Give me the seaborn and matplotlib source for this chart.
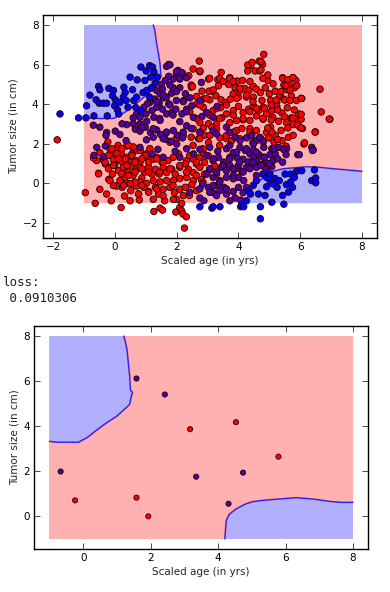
import numpy as np
import pandas as pd
import matplotlib
matplotlib.use("Agg")
import matplotlib.pyplot as plt
import seaborn as sns

# ---------------- data ----------------
# Top chart points
top_blue = [(-1.78,3.51),(-1.18,3.31),(-0.94,3.31),(-0.92,3.92),(-0.81,4.46),(-0.68,3.41),(-0.61,4.22),
    (-0.53,4.90),(-0.49,4.73),(-0.51,4.05),(-0.38,4.05),(-0.27,4.05),(-0.25,3.41),(-0.20,4.80),(-0.05,4.70),
    (-0.08,4.43),(0.01,4.22),(-0.01,3.92),(0.08,3.72),(0.16,4.09),(0.29,4.86),(0.33,4.59),(0.27,4.36),
    (0.36,4.19),(0.42,3.85),(0.49,5.37),(0.57,4.73),(0.61,4.19),(0.70,4.36),(0.72,5.23),(0.68,3.82),
    (0.84,5.88),(0.91,4.59),(0.97,5.20),(1.03,4.70),(1.12,5.95),(1.16,5.37),(1.22,5.88),(1.26,5.64),
    (1.37,5.37),(1.30,5.07),(1.12,4.36),(0.84,3.68),(0.12,3.51),(1.01,5.68),(1.18,4.83),
    (2.75,-1.18),(3.14,-1.25),(3.18,-1.18),(3.40,-1.18),(4.07,-1.18),(4.11,-1.08),(4.17,-1.18),(4.26,-0.88),
    (4.32,-0.37),(4.39,-0.54),(4.48,-0.10),(4.58,0.14),(4.65,-0.54),(4.71,-1.18),(4.71,-1.79),(4.79,0.47),
    (4.86,-0.61),(4.91,-0.17),(5.02,0.14),(5.08,-0.95),(5.12,-0.03),(5.19,0.24),(5.25,-0.20),(5.32,0.14),
    (5.43,-0.61),(5.47,-1.05),(5.51,0.47),(5.55,-0.07),(5.62,-0.44),(5.69,0.47),(5.75,-0.20),(5.81,0.30),
    (5.88,0.61),(6.05,0.64),(6.37,0.14),(6.46,0.68),(6.50,0.27),(6.50,0.03),(5.69,0.07),(4.91,0.30),(5.02,0.47)]

top_red = [(-1.87,2.20),(-0.96,-0.47),(-0.64,-1.01),(-0.12,-0.88),(0.20,-1.22),(1.26,-1.42),(1.46,-1.25),
    (1.54,-1.35),(1.97,-1.45),(1.99,-0.81),(2.10,-1.22),(2.16,-1.39),(2.20,-1.55),(2.31,-1.69),(2.25,-2.26),
    (2.16,-1.01),(1.89,-0.81),(1.61,-0.88),(1.24,-0.81),(0.79,-0.84),(0.49,-0.88),(0.31,-0.64),(6.68,3.61),
    (6.96,3.24),(6.64,4.76),(6.49,2.60),(6.12,1.99),(6.05,4.29),(5.94,3.51),(5.77,5.34),(5.64,5.00),(5.43,5.34),
    (4.82,6.52),(4.67,6.18),(4.39,5.95),(4.30,5.68),(4.54,5.68),(4.69,5.68),(4.78,6.01),(2.73,6.18),(2.53,5.78),
    (2.75,5.64),(3.03,5.27),(3.33,5.24),(3.44,5.61),(3.72,5.34),(3.96,5.17),(4.13,5.20),(2.47,4.97),(3.14,4.66),
    (2.19,5.57),(2.39,5.44),(4.30,5.98),(4.44,6.11),(4.89,5.34),(4.95,5.20),(5.12,5.03),(5.47,4.97),(5.81,4.83),
    (5.86,5.20),(5.62,4.73),
    (2.47,4.86),(2.64,4.39),(2.86,4.26),(3.07,4.22),(3.27,4.43),(3.44,4.22),(3.57,4.09),(3.74,4.26),(3.89,4.83),
    (4.05,4.70),(4.20,4.80),(4.34,4.70),(4.48,4.90),(4.58,4.76),(4.71,4.59),(4.87,4.83),(5.00,4.53),(5.19,4.66),
    (5.34,4.46),(5.47,4.26),(5.56,4.73),(5.71,4.42),(5.88,4.19),(4.00,4.36),(4.26,4.36),(4.48,4.36),(4.76,4.19),
    (5.04,4.19),(5.24,4.09),(3.83,4.53),(3.68,5.00),(3.35,4.93),(3.05,4.66),(2.82,4.66),
    (2.66,4.02),(2.86,3.85),(3.18,3.68),(3.42,3.82),(3.61,3.51),(3.83,3.68),(4.00,3.89),(4.15,3.58),(4.33,3.75),
    (4.48,3.92),(4.65,3.68),(4.80,3.85),(4.91,3.51),(5.08,3.68),(5.24,3.89),(5.41,3.55),(5.58,3.82),(5.71,3.31),
    (5.88,3.24),(6.03,3.24),(5.99,2.84),(6.07,2.77),(5.78,2.97),(5.56,3.07),(5.30,3.14),(5.11,3.34),(4.80,3.24),
    (4.58,3.41),(4.37,3.18),(4.15,3.21),(3.94,3.18),(3.72,3.07),(3.46,3.31),(3.29,3.01),(3.03,3.01),(2.75,3.07),
    (-0.23,2.09),(0.10,1.92),(0.38,1.89),(2.47,2.33),(2.71,2.26),(2.90,2.43),(3.03,2.06),(2.86,2.80),(3.14,2.84),
    (3.40,2.30),(3.61,2.26),(3.78,2.16),(3.94,2.67),(4.11,2.77),(4.37,2.77),(4.58,2.67),(4.91,2.57),(5.04,2.84),
    (5.19,2.43),(5.38,2.67),(5.62,2.33),(5.77,2.43),(5.41,2.16),(5.15,2.09),(4.98,2.30),
    (-0.16,1.72),(0.01,1.49),(0.20,1.55),(0.38,1.32),(0.57,1.82),(0.70,1.66),(0.55,1.49),(0.94,1.32),(1.09,1.32),
    (1.24,1.22),(1.35,1.32),(1.52,1.08),(1.72,1.15),(1.89,1.32),(2.06,1.49),(2.32,1.15),(2.54,1.22),(2.75,1.32),
    (2.86,1.55),(3.02,1.39),(2.64,0.98),(2.90,1.05),(1.02,1.49),(1.13,1.76),(-0.49,1.55),(-0.36,1.15),(-0.59,1.15),
    (-0.05,1.18),(0.12,1.18),(0.25,1.05),(0.51,1.05),(0.68,1.15),(0.81,1.05),(0.10,1.76),
    (-0.53,0.51),(-0.20,0.20),(-0.08,0.47),(0.12,0.64),(0.27,0.81),(0.42,0.57),(0.33,0.30),(0.53,0.88),(0.68,0.68),
    (0.59,0.41),(0.81,0.81),(0.96,0.57),(0.87,0.27),(1.09,0.81),(1.20,0.47),(1.31,0.71),(1.43,0.47),(1.56,0.81),
    (1.67,0.54),(1.84,0.71),(1.95,0.47),(2.10,0.81),(2.28,0.98),(2.38,0.71),(2.54,0.54),(2.75,0.81),(2.90,0.47),
    (3.07,0.68),(3.23,0.88),(3.29,0.47),(2.80,0.20),(2.54,0.14),(2.32,0.30),(2.10,0.24),(1.89,0.14),(1.67,0.14),
    (1.46,0.07),(1.24,0.14),(1.02,0.00),(0.81,0.07),(0.59,0.00),(0.38,0.00),(0.16,0.14),(-0.20,0.81),(-0.31,0.98),
    (-0.01,0.91),
    (-0.49,-0.30),(-0.27,-0.54),(0.05,-0.14),(0.23,-0.20),(0.51,-0.37),(0.70,-0.14),(0.77,-0.54),(0.94,-0.20),
    (1.09,-0.41),(1.31,-0.20),(1.41,-0.54),(1.56,-0.30),(1.78,-0.20),(1.93,-0.47),(2.10,-0.30),(2.28,-0.20),
    (2.41,-0.61),(2.64,-0.37),(2.49,-0.07),
    # further points read from close-ups
    (1.35,1.24),(1.56,1.07),(1.78,0.74),(1.45,0.57),(2.10,0.90),(2.32,0.57),(2.42,1.41),(2.64,1.07),(2.64,0.40),
    (2.85,0.06),(1.88,-0.11),(2.21,-0.62),(1.56,-0.62),(1.35,-0.28),(1.78,2.08),(1.99,2.26),(2.21,2.42),
    (2.53,2.76),(2.75,2.26),(3.07,2.42),(3.29,2.76),(3.39,1.92),(3.61,2.42),(3.83,2.59),(4.04,2.26),(4.37,2.59),
    (4.47,2.08),(2.85,1.75),(2.53,1.92),
    (2.75,5.68),(3.07,5.31),(3.39,5.31),(3.72,5.31),(2.51,4.89),(3.18,4.72),(3.50,5.15),(3.83,5.15),(4.04,4.81),
    (4.37,5.15),(4.26,4.47),(4.47,4.13),(3.94,4.30),(3.61,3.96),(3.29,3.79),(2.96,4.30),(2.75,3.96),(3.07,3.45),
    (3.39,3.28),(3.83,3.45),(4.15,3.28),(4.37,3.62),(4.58,3.79),(2.42,3.62),(2.64,3.28),
    (4.73,6.16),(4.73,5.74),(4.95,5.48),(4.79,5.31),(5.43,5.31),(5.60,5.23),(5.76,5.35),(5.54,4.94),(5.67,4.72),
    (5.89,4.94),(6.03,4.30),(5.38,4.64),(5.22,4.21),(5.50,4.21),(5.67,4.18),(5.06,3.96),(4.84,3.79),(5.27,3.71),
    (5.81,3.71),(6.03,3.49),(6.94,3.25),(5.49,3.37),(5.06,3.20),(4.79,3.29),(5.92,2.95),(5.76,3.29),
    (-0.69,1.28),(-0.53,0.48),(-0.37,1.32),(-0.21,1.41),(-0.32,1.07),(-0.21,0.74),(-0.05,0.90),(0.06,1.50),
    (0.22,1.75),(0.12,1.24),(0.33,1.24),(0.39,0.90),(0.22,0.48),(0.44,0.40),(0.65,0.57),(0.87,0.74),(1.09,0.57),
    (0.65,0.06),(0.87,-0.11),(1.09,-0.45),(0.76,-0.53),(0.49,-0.02),(0.28,-0.11),(-0.16,0.14),(-0.05,-0.11),
    (0.60,1.84),(0.44,1.92),(0.82,1.66),(0.98,1.41),(1.09,1.07),(0.87,1.24),(0.65,1.07),(0.55,1.41),(-0.10,1.75),
    (5.08,2.59),(4.95,2.80),(5.60,2.80),(6.03,2.80),(6.48,2.59),(5.27,2.22),(6.14,2.05),(5.54,1.88),(4.73,2.26)]

top_purple = [(1.74,6.01),(1.67,5.91),(2.04,5.71),(2.15,5.61),(1.99,5.54),(1.88,5.27),(2.10,5.27),(1.74,5.41),
    (1.63,5.20),(1.50,5.00),(2.32,5.34),(2.80,5.10),(1.54,4.76),
    (1.24,4.83),(1.35,4.70),(1.46,4.53),(1.29,4.26),(1.13,4.09),(1.56,4.32),(1.67,4.36),(1.84,4.56),(2.10,4.83),
    (1.88,4.83),(1.99,4.19),(2.23,4.19),(2.43,4.32),(2.75,4.19),(2.28,4.53),(1.74,4.02),(1.43,4.05),(1.05,4.02),
    (0.94,3.85),(0.70,3.51),
    (0.59,3.31),(0.81,3.34),(1.00,3.51),(1.20,3.68),(1.35,3.85),(1.54,3.75),(1.67,3.51),(1.84,3.58),(1.97,3.75),
    (2.17,3.51),(2.32,3.75),(2.49,3.92),(2.54,3.34),(2.82,3.38),(1.26,3.34),(1.46,3.18),(1.03,3.14),(0.81,3.01),
    (0.38,2.97),(0.59,3.01),(0.23,3.01),(3.18,3.34),(2.97,3.58),(3.31,3.89),
    (-0.70,2.94),(-0.49,2.84),(-0.27,2.57),(-0.29,2.43),(-0.59,1.82),(-0.31,1.89),(0.01,2.64),(0.16,2.47),
    (0.36,2.16),(0.66,2.74),(0.81,2.64),(0.98,2.84),(1.15,2.57),(1.35,2.70),(1.24,2.33),(1.02,2.20),(1.48,2.47),
    (1.67,2.57),(1.89,2.67),(1.63,2.23),(1.82,2.13),(2.02,2.43),(2.19,2.30),(2.00,1.99),(2.32,2.91),(2.47,2.77),
    (2.75,2.57),(3.18,2.67),(3.29,2.50),(3.61,2.84),(3.72,2.57),(3.89,2.33),(4.05,2.16),(4.26,2.30),(4.43,2.43),
    (4.58,2.16),(4.69,2.33),(4.48,1.99),(4.80,2.09),(4.82,1.82),(5.08,1.75),(5.30,1.82),(5.56,1.75),(5.92,1.45),
    (6.37,1.82),(6.42,1.69),(0.88,2.84),
    (-0.68,1.42),(-0.38,1.35),(0.81,1.82),(1.20,1.49),(1.39,1.72),(1.56,1.32),(1.95,1.62),(2.10,1.32),(2.32,1.75),
    (2.54,1.49),(2.75,1.72),(3.07,1.82),(3.33,1.62),(3.61,1.75),(3.83,1.55),(4.05,1.82),(4.22,1.66),(4.37,1.49),
    (4.48,1.69),(4.66,1.45),(3.72,1.32),(3.96,1.28),(4.15,1.22),(4.32,1.08),(4.58,1.15),(4.80,1.32),(5.02,1.45),
    (5.12,1.15),(4.48,1.32),(3.52,1.08),(3.18,1.15),(3.35,1.32),(4.89,1.05),(5.19,1.49),
    (3.44,0.81),(3.61,0.64),(3.72,0.91),(3.88,0.71),(4.00,0.91),(4.11,0.61),(4.26,0.81),(4.43,0.95),(4.58,0.81),
    (4.74,0.95),(4.89,0.71),(5.08,0.84),(3.83,0.41),(4.00,0.30),(4.17,0.14),(3.61,0.30),(3.40,0.14),(3.18,0.30),
    (2.97,0.47),(3.29,-0.10),(3.53,-0.20),
    (2.84,-0.03),(3.02,-0.20),(3.18,-0.47),(3.40,-0.37),(3.61,-0.54),(3.83,-0.41),(4.00,-0.20),(4.15,-0.47),
    (3.89,-0.74),(3.72,-0.88),(4.07,-0.84),(4.26,-0.20),(2.75,-0.74),(2.88,-0.88),
    # further points read from close-ups
    (1.24,2.76),(1.67,2.59),(2.21,2.59),(2.75,2.59),(1.56,2.26),(2.96,1.41),(3.18,1.24),(3.07,0.74),(3.29,0.57),
    (3.50,0.90),(3.72,1.24),(3.83,0.74),(4.04,1.07),(4.15,0.57),(4.37,0.74),(4.47,1.07),(4.58,0.40),(3.94,1.58),
    (4.26,1.75),(4.58,1.58),(3.72,1.92),(3.18,-0.11),(3.39,0.06),(3.61,-0.28),(3.83,0.23),(3.07,-0.45),
    (3.29,-0.62),(2.42,-0.45),(2.75,-0.28),
    (1.78,5.99),(1.99,5.65),(2.10,5.31),(1.78,4.97),(1.99,4.64),(1.56,4.47),(1.35,4.13),(1.78,3.96),(2.21,4.13),
    (2.32,3.62),(1.88,3.45),(1.45,3.28),(2.10,3.12),
    (5.14,1.75),(5.46,1.72),(5.97,1.45),(6.40,1.66),(5.27,1.24),(5.54,1.45),(4.84,1.32),(4.73,0.90),(5.00,0.99),
    (5.43,1.07)]

# Bottom chart points
bot_red = [(3.17,3.87),(4.53,4.18),(5.79,2.65),(-0.24,0.71),(1.58,0.83),(1.93,0.00)]
bot_purple = [(1.58,6.12),(2.42,5.41),(-0.67,1.99),(3.35,1.76),(4.74,1.94),(4.31,0.56)]

# Decision region (mesh extent) and boundaries
grid_x = [-1.0, 8.0]
grid_y = [-1.0, 8.0]
top_ul_x = [-1.0, -0.49, -0.05, 0.16, 0.49, 0.81, 1.13, 1.35, 1.50, 1.48, 1.46, 1.41, 1.35, 1.29, 1.24]
top_ul_y = [3.31, 3.28, 3.28, 3.43, 3.77, 4.19, 4.61, 5.00, 5.44, 5.54, 6.05, 6.55, 7.06, 7.74, 8.0]
top_lr_x = [4.22, 4.26, 4.48, 4.80, 5.12, 5.45, 5.77, 6.20, 6.63, 7.07, 7.50, 8.0]
top_lr_y = [-1.0, -0.81, -0.20, 0.30, 0.61, 0.74, 0.78, 0.84, 0.81, 0.74, 0.68, 0.61]
bot_ul_x = [-1.0, -0.79, -0.14, 0.12, 0.39, 0.69, 0.99, 1.28, 1.38, 1.42, 1.46, 1.40, 1.38, 1.34, 1.30, 1.24, 1.20]
bot_ul_y = [3.33, 3.29, 3.29, 3.50, 3.82, 4.15, 4.44, 4.83, 4.98, 5.27, 5.51, 5.60, 6.19, 6.79, 7.38, 7.82, 8.0]
bot_lr_x = [4.20, 4.24, 4.33, 4.53, 4.83, 5.02, 5.32, 5.81, 6.31, 6.80, 7.39, 7.68, 8.0]
bot_lr_y = [-1.0, -0.18, 0.09, 0.33, 0.56, 0.65, 0.71, 0.77, 0.83, 0.77, 0.65, 0.62, 0.62]

loss_text = "loss:\n 0.0910306"
xlabel = "Scaled age (in yrs)"
ylabel = "Tumor size (in cm)"

# ---------------- styling ----------------
sns.set_style("white")
plt.rcParams['font.family'] = ['DejaVu Sans']
plt.rcParams.update({
    'xtick.direction': 'in', 'ytick.direction': 'in',
    'xtick.top': True, 'ytick.right': True,
    'xtick.bottom': True, 'ytick.left': True,
    'xtick.major.size': 4, 'ytick.major.size': 4,
    'xtick.major.width': 0.5, 'ytick.major.width': 0.5,
    'xtick.color': 'black', 'ytick.color': 'black',
    'axes.edgecolor': 'black', 'axes.linewidth': 1.0,
})

RED_BG = '#ffb0b0'
BLUE_BG = '#b0b0ff'
LINE = '#2020ff'
palette = {'red': '#ff0000', 'blue': '#0000ff', 'purple': '#50009c'}

fig = plt.figure(figsize=(3.9, 5.92), dpi=100)
ax1 = fig.add_axes([0.1095, 0.598, 0.8575, 0.3767])
ax2 = fig.add_axes([0.088, 0.0726, 0.856, 0.3767])


def draw_regions(ax, ulx, uly, lrx, lry):
    gx0, gx1 = grid_x
    gy0, gy1 = grid_y
    ax.fill([gx0, gx1, gx1, gx0], [gy0, gy0, gy1, gy1], color=RED_BG, lw=0, zorder=0)
    ax.fill([gx0] + ulx + [gx0], [gy1] + uly + [gy1], color=BLUE_BG, lw=0, zorder=0.5)
    ax.fill(lrx + [gx1], lry + [gy0], color=BLUE_BG, lw=0, zorder=0.5)
    ax.plot(ulx, uly, color='#ff4040', lw=1.4, zorder=0.8, alpha=0.5)
    ax.plot(lrx, lry, color='#ff4040', lw=1.4, zorder=0.8, alpha=0.5)
    ax.plot(ulx, uly, color=LINE, lw=0.9, zorder=1)
    ax.plot(lrx, lry, color=LINE, lw=0.9, zorder=1)


def frame(groups):
    rows = []
    for name, pts in groups:
        for x, y in pts:
            rows.append((x, y, name))
    return pd.DataFrame(rows, columns=['x', 'y', 'label'])


# top chart
draw_regions(ax1, top_ul_x, top_ul_y, top_lr_x, top_lr_y)
df1 = frame([('red', top_red), ('purple', top_purple), ('blue', top_blue)])
sns.scatterplot(data=df1, x='x', y='y', hue='label', palette=palette, legend=False,
                s=22, edgecolor='#200000', linewidth=0.6, ax=ax1, zorder=3)
ax1.set_xlim(-2.34, 8.49)
ax1.set_ylim(-2.76, 8.51)

# bottom chart
draw_regions(ax2, bot_ul_x, bot_ul_y, bot_lr_x, bot_lr_y)
df2 = frame([('red', bot_red), ('purple', bot_purple)])
sns.scatterplot(data=df2, x='x', y='y', hue='label', palette=palette, legend=False,
                s=14, edgecolor='#200000', linewidth=0.6, ax=ax2, zorder=3)
ax2.set_xlim(-1.45, 8.45)
ax2.set_ylim(-1.45, 8.45)

for ax in (ax1, ax2):
    ax.set_xticks([-2, 0, 2, 4, 6, 8] if ax is ax1 else [0, 2, 4, 6, 8])
    ax.set_yticks([-2, 0, 2, 4, 6, 8] if ax is ax1 else [0, 2, 4, 6, 8])
    ax.set_xticklabels([("\u2212" + str(-t)) if t < 0 else str(t) for t in ax.get_xticks().astype(int)])
    ax.set_yticklabels([("\u2212" + str(-t)) if t < 0 else str(t) for t in ax.get_yticks().astype(int)])
    ax.tick_params(labelsize=7.5, pad=3)
    ax.set_xlabel(xlabel, fontsize=7.5, labelpad=3)
    ax.set_ylabel(ylabel, fontsize=7.5, labelpad=3)
    for s in ax.spines.values():
        s.set_visible(True)
        s.set_color('black')

fig.text(0.004, 1 - 276 / 592, loss_text, family='DejaVu Sans Mono', fontsize=9,
         va='top', ha='left', color='#202020', linespacing=1.25)

fig.savefig('out.png', dpi=100, facecolor='white')
